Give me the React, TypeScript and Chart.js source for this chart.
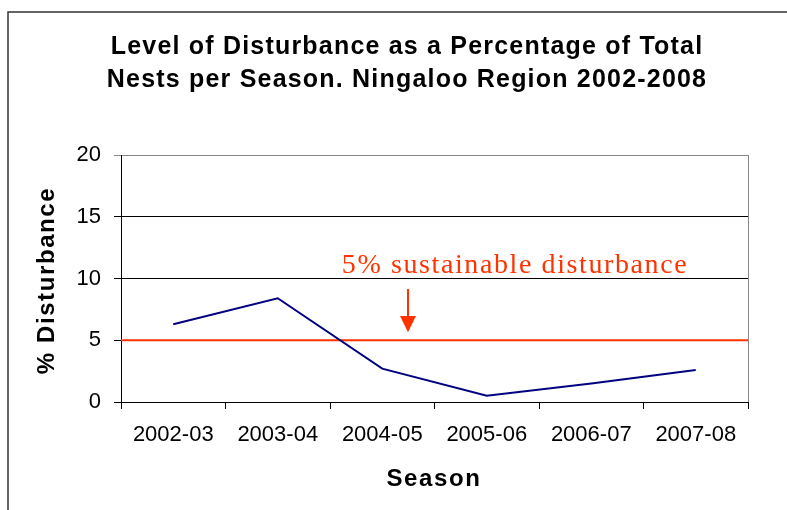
import React, { useEffect, useRef } from "react";
import { Chart, registerables } from "chart.js";

Chart.register(...registerables);

const seasons = ["2002-03", "2003-04", "2004-05", "2005-06", "2006-07", "2007-08"];
const disturbance = [6.3, 8.4, 2.7, 0.5, 1.5, 2.6];
const yTicks = [0, 5, 10, 15, 20];
const threshold = 5;
const titleLines = [
  "Level of Disturbance as a Percentage of Total",
  "Nests per Season. Ningaloo Region 2002-2008",
];
const annotationText = "5% sustainable disturbance";
const yTitle = "% Disturbance";
const xTitle = "Season";

const RED = "#FF3300";
const NAVY = "#000080";

const drawText = (
  ctx: CanvasRenderingContext2D,
  text: string,
  x: number,
  y: number,
  font: string,
  color: string,
  spacing: number
) => {
  ctx.save();
  ctx.font = font;
  ctx.fillStyle = color;
  (ctx as any).letterSpacing = spacing + "px";
  ctx.textAlign = "center";
  ctx.textBaseline = "middle";
  ctx.fillText(text, x, y);
  ctx.restore();
};

const decorPlugin = {
  id: "decor",
  beforeDatasetsDraw(chart: any) {
    const { ctx, chartArea } = chart;
    const y = chart.scales.y;
    ctx.save();
    // right border of plot
    ctx.strokeStyle = "#888888";
    ctx.lineWidth = 1;
    ctx.beginPath();
    ctx.moveTo(chartArea.right + 0.5, chartArea.top);
    ctx.lineTo(chartArea.right + 0.5, chartArea.bottom);
    ctx.stroke();
    // threshold line
    const ty = y.getPixelForValue(threshold);
    ctx.strokeStyle = RED;
    ctx.lineWidth = 2;
    ctx.beginPath();
    ctx.moveTo(chartArea.left, ty);
    ctx.lineTo(chartArea.right, ty);
    ctx.stroke();
    ctx.restore();
  },
  afterDraw(chart: any) {
    const { ctx, chartArea } = chart;
    const y = chart.scales.y;
    ctx.save();
    // outer frame (top + left)
    ctx.strokeStyle = "#333333";
    ctx.lineWidth = 1.5;
    ctx.beginPath();
    ctx.moveTo(8, 510);
    ctx.lineTo(8, 12);
    ctx.lineTo(787, 12);
    ctx.stroke();
    ctx.restore();

    const titleFont = "bold 25px 'Liberation Sans', Arial, sans-serif";
    const boldFont = "bold 24px 'Liberation Sans', Arial, sans-serif";
    drawText(ctx, titleLines[0], 407, 47, titleFont, "#000", 1.2);
    drawText(ctx, titleLines[1], 407, 80, titleFont, "#000", 1.2);

    drawText(ctx, xTitle, 434, 479, boldFont, "#000", 1.6);

    ctx.save();
    ctx.translate(47, (chartArea.top + chartArea.bottom) / 2 + 2);
    ctx.rotate(-Math.PI / 2);
    drawText(ctx, yTitle, 0, 0, boldFont, "#000", 1.6);
    ctx.restore();

    // annotation
    const ty = y.getPixelForValue(threshold);
    drawText(
      ctx,
      annotationText,
      515,
      266,
      "28px 'Liberation Serif', 'Times New Roman', serif",
      RED,
      1.6
    );
    const ax = 408;
    ctx.save();
    ctx.strokeStyle = RED;
    ctx.fillStyle = RED;
    ctx.lineWidth = 2;
    ctx.beginPath();
    ctx.moveTo(ax, 289);
    ctx.lineTo(ax, 318);
    ctx.stroke();
    ctx.beginPath();
    ctx.moveTo(ax - 8, 316);
    ctx.lineTo(ax + 8, 316);
    ctx.lineTo(ax, ty - 8);
    ctx.closePath();
    ctx.fill();
    ctx.restore();
  },
};

export default function App() {
  const canvasRef = useRef<HTMLCanvasElement | null>(null);

  useEffect(() => {
    if (!canvasRef.current) return;
    const chart = new Chart(canvasRef.current, {
      type: "line",
      data: {
        labels: seasons,
        datasets: [
          {
            data: disturbance,
            borderColor: NAVY,
            borderWidth: 2,
            pointRadius: 0,
            tension: 0,
            fill: false,
          },
        ],
      },
      options: {
        animation: false,
        responsive: true,
        maintainAspectRatio: false,
        devicePixelRatio: 1,
        layout: { padding: { top: 155, right: 39, left: 0, bottom: 0 } },
        plugins: {
          legend: { display: false },
          tooltip: { enabled: false },
          title: { display: false },
        },
        scales: {
          x: {
            type: "category",
            offset: true,
            afterFit: (s: any) => {
              s.height = 108;
            },
            grid: {
              offset: true,
              drawOnChartArea: false,
              drawTicks: true,
              tickLength: 7,
              color: "#000000",
            },
            border: { display: true, color: "#000000", width: 1 },
            ticks: {
              color: "#000000",
              padding: 13,
              maxRotation: 0,
              autoSkip: false,
              font: { family: "'Liberation Sans', Arial, sans-serif", size: 22 },
            },
          },
          y: {
            min: 0,
            max: 20,
            afterFit: (s: any) => {
              s.width = 121;
            },
            afterBuildTicks: (s: any) => {
              s.ticks = yTicks.map((v) => ({ value: v }));
            },
            grid: {
              drawTicks: true,
              tickLength: 7,
              color: (c: any) => (c.tick && c.tick.value === 20 ? "#888888" : "#000000"),
            },
            border: { display: true, color: "#000000", width: 1 },
            ticks: {
              color: "#000000",
              padding: 13,
              font: { family: "'Liberation Sans', Arial, sans-serif", size: 22 },
            },
          },
        },
      },
      plugins: [decorPlugin],
    });
    return () => chart.destroy();
  }, []);

  return (
    <div style={{ position: "fixed", left: 0, top: 0, width: 787, height: 510, background: "#fff" }}>
      <canvas ref={canvasRef} />
    </div>
  );
}
